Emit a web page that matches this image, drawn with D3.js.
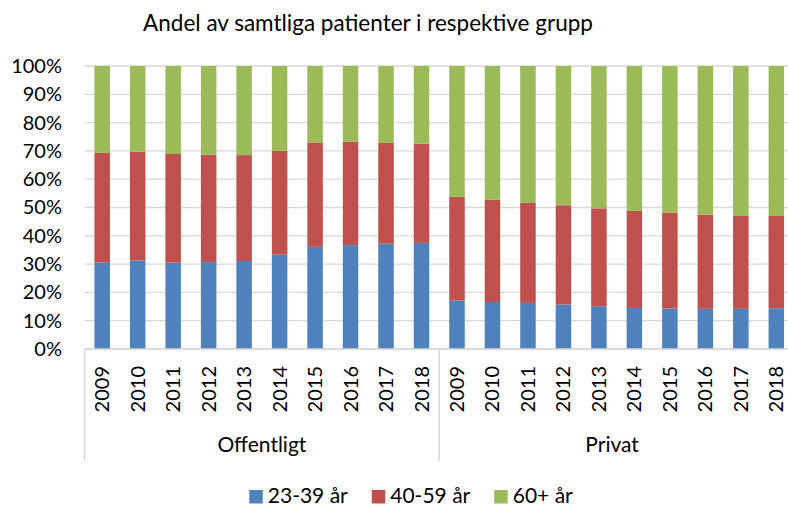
<!DOCTYPE html>
<html>
<head>
<meta charset="utf-8">
<script src="https://cdn.jsdelivr.net/npm/d3@7/dist/d3.min.js"></script>
<style>
  html, body { margin: 0; padding: 0; background: #fff; }
  svg { display: block; font-family: Lato, "Open Sans", sans-serif; }
</style>
</head>
<body>
<svg id="chart" width="788" height="506"></svg>
<script>
// Age-group shares (%) of all patients, per sector and year
const groups = ["Offentligt", "Privat"];
const years = ["2009", "2010", "2011", "2012", "2013", "2014", "2015", "2016", "2017", "2018"];
const seriesNames = ["23-39 år", "40-59 år", "60+ år"];
const seriesColors = ["#4f81bd", "#c0504d", "#9bbb59"];

const offentligt23_39 = [30.5, 31.3, 30.5, 30.7, 31.1, 33.3, 36.1, 36.7, 37.2, 37.5];
const offentligt40_59 = [38.8, 38.4, 38.4, 37.9, 37.4, 36.8, 36.9, 36.5, 35.6, 35.1];
const offentligt60 =    [30.7, 30.3, 31.1, 31.4, 31.5, 29.9, 27.0, 26.8, 27.2, 27.4];

const privat23_39 = [17.1, 16.6, 16.3, 15.7, 15.1, 14.5, 14.3, 14.2, 14.2, 14.4];
const privat40_59 = [36.7, 36.1, 35.3, 35.1, 34.6, 34.3, 33.9, 33.3, 32.8, 32.6];
const privat60 =    [46.2, 47.3, 48.4, 49.2, 50.3, 51.2, 51.8, 52.5, 53.0, 53.0];

const yTicks = [0, 10, 20, 30, 40, 50, 60, 70, 80, 90, 100];
const titleText = "Andel av samtliga patienter i respektive grupp";

// Build rows: one per (group, year)
const groupSeries = {
  "Offentligt": [offentligt23_39, offentligt40_59, offentligt60],
  "Privat": [privat23_39, privat40_59, privat60]
};
const rows = [];
groups.forEach(g => {
  years.forEach((y, i) => {
    const r = { key: g + "-" + y, group: g, year: y };
    seriesNames.forEach((s, k) => { r[s] = groupSeries[g][k][i]; });
    rows.push(r);
  });
});

const svg = d3.select("#chart");
const margin = { left: 84.5, top: 66, bottom: 349 };
const plotRight = 794;

const x = d3.scaleBand()
  .domain(rows.map(d => d.key))
  .range([margin.left, plotRight])
  .paddingInner(0.563)
  .paddingOuter(0.28);

const y = d3.scaleLinear().domain([0, 100]).range([margin.bottom, margin.top]);

// Gridlines
svg.append("g")
  .selectAll("line")
  .data(yTicks)
  .join("line")
  .attr("x1", margin.left)
  .attr("x2", 788)
  .attr("y1", d => y(d))
  .attr("y2", d => y(d))
  .attr("stroke", "#d9d9d9")
  .attr("stroke-width", 1.3);

// Y axis labels
const yAxis = d3.axisLeft(y).tickValues(yTicks).tickFormat(d => d + "%").tickSize(0).tickPadding(0);
const yg = svg.append("g").attr("transform", `translate(62,0)`).call(yAxis);
yg.select(".domain").remove();
yg.selectAll("text")
  .attr("font-family", "Lato, sans-serif")
  .attr("font-size", 20)
  .attr("fill", "#000");

// Stacked bars
const stack = d3.stack().keys(seriesNames);
const stacked = stack(rows);

svg.append("g")
  .selectAll("g")
  .data(stacked)
  .join("g")
  .attr("fill", (d, i) => seriesColors[i])
  .selectAll("rect")
  .data(d => d)
  .join("rect")
  .attr("x", d => x(d.data.key))
  .attr("width", x.bandwidth())
  .attr("y", d => y(d[1]))
  .attr("height", d => y(d[0]) - y(d[1]));

// Bottom axis line and group separators
const axisG = svg.append("g");
axisG.append("line")
  .attr("x1", margin.left).attr("x2", 788)
  .attr("y1", margin.bottom).attr("y2", margin.bottom)
  .attr("stroke", "#d9d9d9").attr("stroke-width", 1.5);

const groupEdges = [margin.left,
  (x(groups[0] + "-" + years[years.length - 1]) + x.bandwidth() + x(groups[1] + "-" + years[0])) / 2,
  plotRight];
axisG.selectAll("line.sep")
  .data(groupEdges)
  .join("line")
  .attr("class", "sep")
  .attr("x1", d => d).attr("x2", d => d)
  .attr("y1", margin.bottom).attr("y2", 461)
  .attr("stroke", "#d9d9d9").attr("stroke-width", 1.5);

// Year labels (rotated)
svg.append("g")
  .selectAll("text")
  .data(rows)
  .join("text")
  .attr("transform", d => `translate(${x(d.key) + x.bandwidth() / 2 + 7},366) rotate(-90)`)
  .attr("text-anchor", "end")
  .attr("font-size", 20)
  .attr("fill", "#000")
  .text(d => d.year);

// Group labels
svg.append("g")
  .selectAll("text")
  .data(groups)
  .join("text")
  .attr("x", (d, i) => (groupEdges[i] + Math.min(groupEdges[i + 1], i === 1 ? 785 : groupEdges[i + 1])) / 2)
  .attr("y", 452)
  .attr("text-anchor", "middle")
  .attr("font-size", 21)
  .attr("fill", "#000")
  .text(d => d);

// Title
svg.append("text")
  .attr("x", 368)
  .attr("y", 31)
  .attr("text-anchor", "middle")
  .attr("font-size", 22.5)
  .attr("fill", "#000")
  .text(titleText);

// Legend
const legend = svg.append("g");
const items = legend.selectAll("g")
  .data(seriesNames)
  .join("g");
items.append("rect")
  .attr("width", 13.5).attr("height", 13.5)
  .attr("y", 490)
  .attr("fill", (d, i) => seriesColors[i]);
items.append("text")
  .attr("y", 503)
  .attr("font-size", 21)
  .attr("fill", "#000")
  .text(d => d);
let cx = 0;
const gap = 24;
items.each(function() {
  const g = d3.select(this);
  const w = g.select("text").node().getComputedTextLength();
  g.select("text").attr("x", 18.5);
  g.attr("transform", `translate(${cx},0)`);
  cx += 18.5 + w + gap;
});
const total = cx - gap;
legend.attr("transform", `translate(${411 - total / 2},0)`);
</script>
</body>
</html>
